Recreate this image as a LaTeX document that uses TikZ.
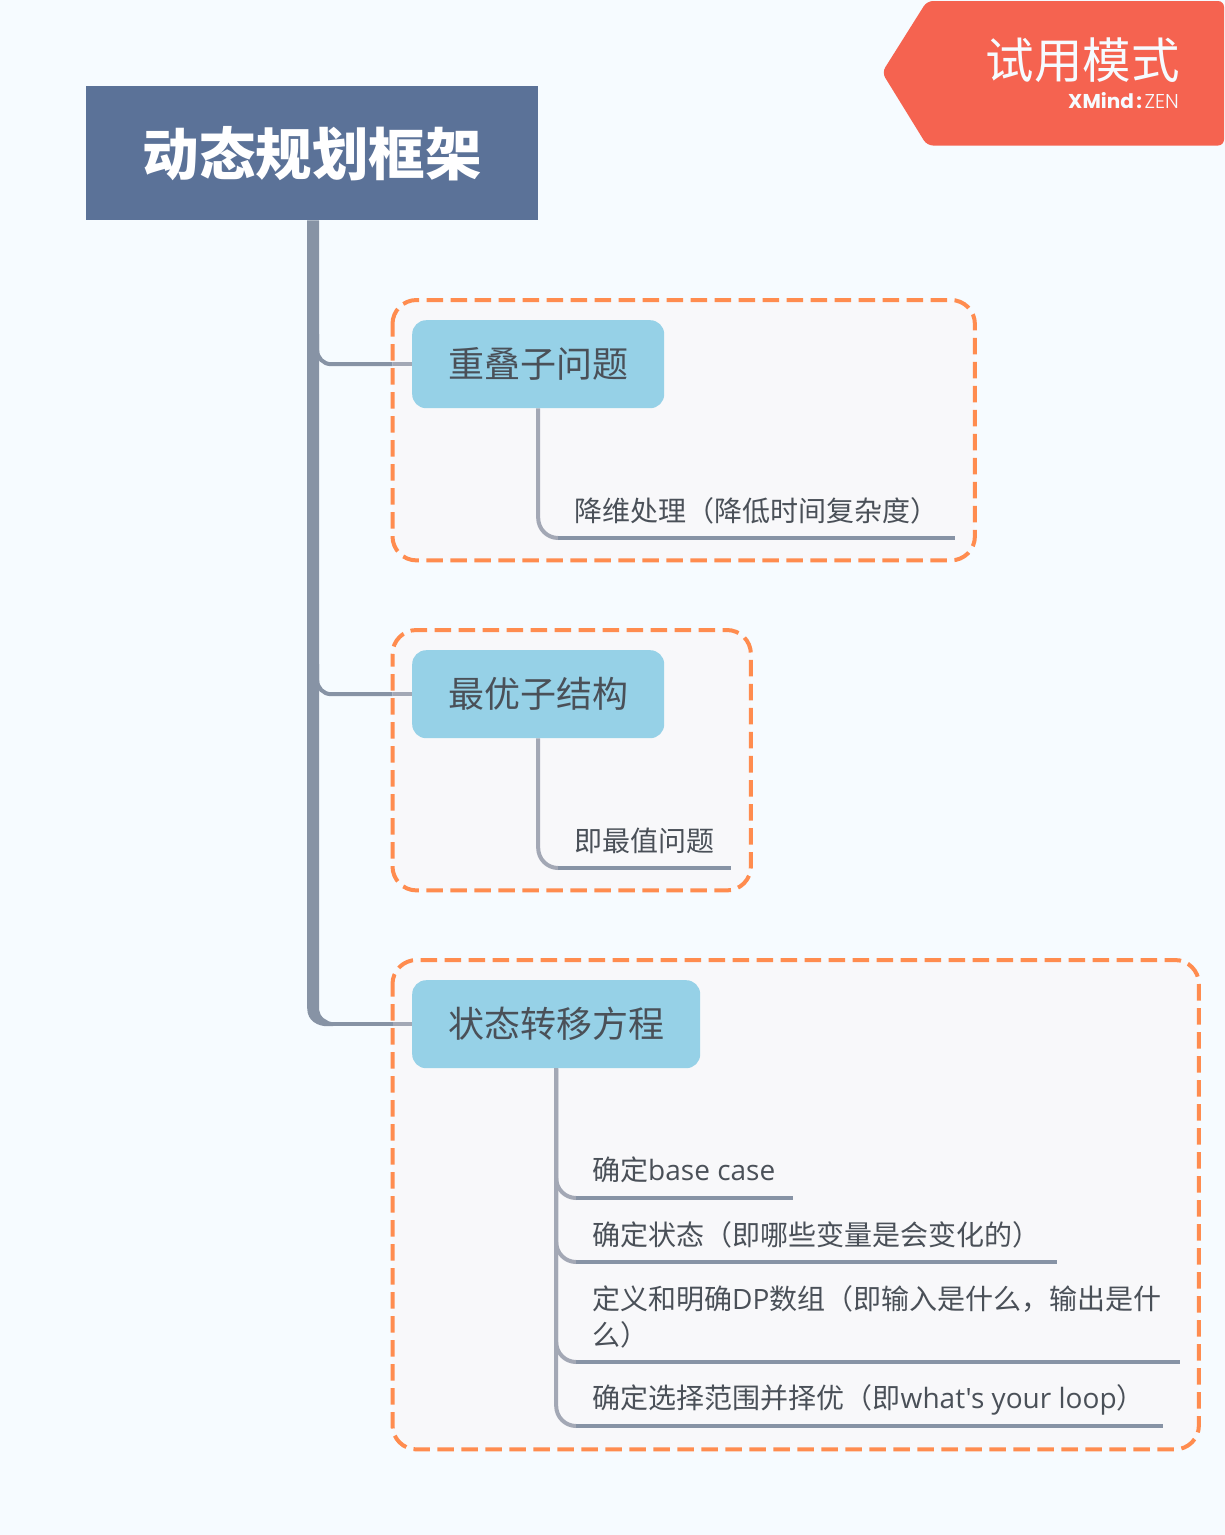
\documentclass[tikz,border=0pt]{standalone}
\usepackage{fontspec}
\setmainfont{Noto Sans CJK SC}
\newfontfamily\lat{Open Sans}
\newfontfamily\pop{Poppins}
\newfontfamily\popl{Poppins Light}
\usetikzlibrary{calc}
\definecolor{bgc}{HTML}{F6FBFF}
\definecolor{rootc}{HTML}{5B7298}
\definecolor{trunkc}{HTML}{8793A5}
\definecolor{linkc}{HTML}{A3A8B5}
\definecolor{topicc}{HTML}{96D1E7}
\definecolor{textc}{HTML}{4A5058}
\definecolor{dashc}{HTML}{FF8C4F}
\definecolor{groupc}{HTML}{F8F8FA}
\definecolor{badgec}{HTML}{F56350}
\tikzset{
  groupbox/.style={anchor=north west,inner sep=0pt,rounded corners=24,fill=groupc},
  groupline/.style={draw=dashc,line width=4,rounded corners=24,dash pattern=on 16.5 off 7.5,dash phase=4},
  topic/.style={anchor=north west,inner sep=0pt,rounded corners=14,fill=topicc,text=textc,font=\fontsize{36}{44}\selectfont,minimum height=88},
  subtopic/.style={anchor=south west,inner xsep=16,inner ysep=0pt,text=textc,font=\fontsize{28}{36}\selectfont,align=left},
  underline/.style={draw=trunkc,line width=4.6},
  link/.style={draw=linkc,line width=4,rounded corners=20},
  branch/.style={draw=trunkc,line width=4,rounded corners=14},
  branchend/.style={draw=linkc,line width=4},
}
\begin{document}
\begin{tikzpicture}[x=1pt,y=-1pt]
\useasboundingbox (0,0) rectangle (1225,1535);
\fill[bgc] (0,0) rectangle (1225,1535);
% groups
\node[groupbox,minimum width=582,minimum height=260] (g1) at (392.5,300) {};
\node[groupbox,minimum width=358,minimum height=260] (g2) at (392.5,630) {};
\node[groupbox,minimum width=806,minimum height=489] (g3) at (392.5,960) {};
% root
\node[anchor=north west,inner sep=0pt,fill=rootc,text=white,minimum width=452,minimum height=134,font=\fontsize{56.5}{66}\selectfont\bfseries] (root) at (86,86) {动态规划框架};
% topics
\node[topic,minimum width=252] (n1) at (412,320) {重叠子问题};
\node[topic,minimum width=252] (n2) at (412,650) {最优子结构};
\node[topic,minimum width=288] (n3) at (412,980) {状态转移方程};
% subtopics
\node[subtopic,minimum width=397,minimum height=54] (s1) at (558,538) {降维处理（降低时间复杂度）};
\node[subtopic,minimum width=173,minimum height=54] (s2) at (558,868) {即最值问题};
\node[subtopic,minimum width=217,minimum height=56] (s3) at (576,1198) {确定{\lat base case}\hspace*{2pt}};
\node[subtopic,minimum width=481,minimum height=54] (s4) at (576,1262) {确定状态（即哪些变量是会变化的）};
\node[subtopic,minimum width=603,minimum height=90] (s5) at (576,1362) {定义和明确{\lat DP}数组（即输入是什么，输出是什\hspace*{2pt}\\么）};
\node[subtopic,minimum width=587,minimum height=52] (s6) at (576,1426) {确定选择范围并择优（即{\lat what's your loop}）\hspace*{2pt}};
% trunk
\coordinate (ta) at ($(root.south)+(-5,0)$);
\coordinate (tb) at ($(root.south)+(7,0)$);
\coordinate (tc) at ($(ta |- n3.west)+(0,-16)$);
\coordinate (td) at ($(ta |- n3.west)+(20,2)$);
\coordinate (te) at ($(ta |- n3.west)+(26,2)$);
\coordinate (tf) at ($(ta |- n3.west)+(26,-2)$);
\coordinate (tg) at ($(tb |- n3.west)+(0,-14)$);
\fill[trunkc] (ta) -- (tc) .. controls +(0,13) and +(-9,0) .. (td) -- (te) -- (tf) .. controls +(-6,0) and +(0,6) .. (tg) -- (tb) -- cycle;
\coordinate (bb) at ($(root.south)+(5,0)$);
\draw[branch] ($(bb |- n1.west)+(0,-30)$) |- (g1.west |- n1.west);
\draw[branch] ($(bb |- n2.west)+(0,-30)$) |- (g2.west |- n2.west);
\draw[draw=trunkc,line width=4] (tf |- n3.west) -- (g3.west |- n3.west);
\draw[branchend] (g1.west |- n1.west) -- (n1.west);
\draw[branchend] (g2.west |- n2.west) -- (n2.west);
\draw[branchend] (g3.west |- n3.west) -- (n3.west);
% links
\draw[link] (n1.south) |- (s1.south west);
\draw[link] (n2.south) |- (s2.south west);
\draw[link] (n3.south) |- (s3.south west);
\draw[link] (n3.south) |- (s4.south west);
\draw[link] (n3.south) |- (s5.south west);
\draw[link] (n3.south) |- (s6.south west);
% underlines
\foreach \s in {s1,s2,s3,s4,s5,s6} \draw[underline] (\s.south west) -- (\s.south east);
% dashed outlines
\draw[groupline] (g1.north west) rectangle (g1.south east);
\draw[groupline] (g2.north west) rectangle (g2.south east);
\draw[groupline] (g3.north west) rectangle (g3.south east);
% badge
\coordinate (b1) at (1224,1);
\coordinate (b2) at (1224,145.5);
\coordinate (b3) at (927,145.5);
\coordinate (b4) at (882,72.5);
\coordinate (b5) at (927,1);
\fill[badgec,rounded corners=6] (b1) -- (b2) -- (b3) -- (b4) -- (b5) -- cycle;
\node[anchor=east,inner sep=0pt,text=bgc,font=\fontsize{48.5}{56}\selectfont] (bt) at (1180,60) {试用模式};
\node[anchor=east,inner sep=0pt,text=bgc,font=\fontsize{20}{24}\selectfont] (bx) at (1179,101) {{\pop\bfseries XMind}\hspace{2.5pt}{\pop\bfseries:}\hspace{2.5pt}{\popl ZEN}};
\end{tikzpicture}
\end{document}
